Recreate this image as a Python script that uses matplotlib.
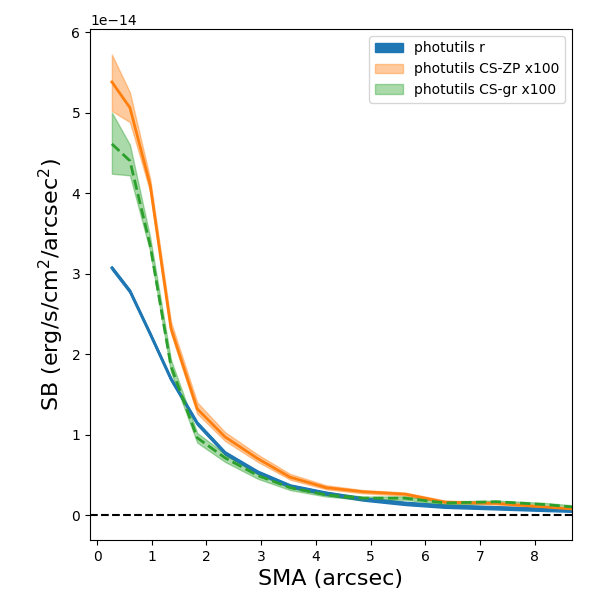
import matplotlib
matplotlib.use('Agg')
import matplotlib.pyplot as plt
import numpy as np

scale = 1e-14

sma = [0.27, 0.60, 0.97, 1.35, 1.83, 2.34, 2.94, 3.53, 4.19, 4.86, 5.63, 6.36, 7.30, 8.20, 9.20]

r_sb = [3.07, 2.78, 2.25, 1.69, 1.14, 0.77, 0.53, 0.36, 0.27, 0.20, 0.145, 0.11, 0.09, 0.07, 0.05]
r_lo = [3.05, 2.76, 2.23, 1.67, 1.12, 0.75, 0.51, 0.34, 0.25, 0.18, 0.125, 0.09, 0.07, 0.05, 0.03]
r_hi = [3.09, 2.80, 2.27, 1.71, 1.16, 0.79, 0.55, 0.38, 0.29, 0.22, 0.165, 0.13, 0.11, 0.09, 0.07]

zp_sb = [5.38, 5.06, 4.10, 2.32, 1.32, 0.97, 0.70, 0.47, 0.34, 0.29, 0.26, 0.16, 0.145, 0.10, 0.05]
zp_lo = [5.02, 4.88, 4.02, 2.26, 1.26, 0.92, 0.66, 0.44, 0.32, 0.27, 0.24, 0.15, 0.13, 0.09, 0.04]
zp_hi = [5.72, 5.25, 4.18, 2.40, 1.40, 1.03, 0.75, 0.51, 0.37, 0.31, 0.28, 0.18, 0.16, 0.11, 0.06]

gr_sb = [4.61, 4.40, 3.35, 1.85, 0.96, 0.71, 0.49, 0.34, 0.25, 0.21, 0.21, 0.15, 0.165, 0.13, 0.07]
gr_lo = [4.24, 4.22, 3.28, 1.78, 0.90, 0.66, 0.45, 0.31, 0.23, 0.19, 0.19, 0.13, 0.15, 0.11, 0.05]
gr_hi = [5.00, 4.60, 3.45, 1.93, 1.02, 0.76, 0.53, 0.37, 0.28, 0.23, 0.23, 0.17, 0.18, 0.15, 0.09]

x = np.array(sma)
fig, ax = plt.subplots(figsize=(6, 6), dpi=100)
fig.subplots_adjust(left=0.15, right=0.953, top=0.952, bottom=0.1)

ax.fill_between(x, np.array(r_lo) * scale, np.array(r_hi) * scale, color='C0', alpha=1.0, label='photutils r')
ax.plot(x, np.array(r_sb) * scale, color='C0', lw=2)

ax.fill_between(x, np.array(zp_lo) * scale, np.array(zp_hi) * scale, color='C1', alpha=0.4, label='photutils CS-ZP x100')
ax.plot(x, np.array(zp_sb) * scale, color='C1', lw=2)

ax.fill_between(x, np.array(gr_lo) * scale, np.array(gr_hi) * scale, color='C2', alpha=0.4, label='photutils CS-gr x100')
ax.plot(x, np.array(gr_sb) * scale, color='C2', lw=2, ls='--')

ax.axhline(0, color='k', ls='--', lw=1.5)

ax.set_xlim(-0.13, 8.68)
ax.set_ylim(-0.31e-14, 6.04e-14)
ax.set_xlabel('SMA (arcsec)', fontsize=16)
ax.set_ylabel(r'SB (erg/s/cm$^2$/arcsec$^2$)', fontsize=16)
ax.legend(loc='upper right')

plt.savefig('out.png')
